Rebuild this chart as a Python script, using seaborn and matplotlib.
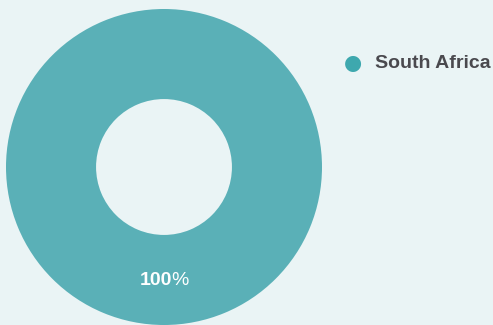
import matplotlib
matplotlib.use("Agg")
import matplotlib.pyplot as plt
import seaborn as sns

categories = ["South Africa"]
values = [100]
slice_colors = ["#5ab0b7"]
legend_colors = ["#3ea8ae"]

sns.set_style("white")
plt.rcParams['font.family'] = ['Liberation Sans', 'DejaVu Sans']

bg = "#eaf4f5"
fig = plt.figure(figsize=(4.93, 3.25), dpi=100, facecolor=bg)
ax = fig.add_axes([6/493, 0/325, 316/493, 316/325])
ax.set_facecolor(bg)
wedges, _ = ax.pie(values, colors=slice_colors, startangle=90, counterclock=False,
                   radius=1.0, wedgeprops=dict(width=0.57, linewidth=0))
ax.set_xlim(-1, 1)
ax.set_ylim(-1, 1)
ax.set_aspect('equal')
ax.axis('off')

total = sum(values)
for v in values:
    pct = f"{v / total * 100:.0f}"
    ax.annotate(pct, xy=(0, -0.72), xytext=(6, 0), textcoords='offset points',
                ha='right', va='center', color='white', fontsize=14, fontweight='bold')
    ax.annotate("%", xy=(0, -0.72), xytext=(5.5, 0), textcoords='offset points',
                ha='left', va='center', color='white', fontsize=14, fontweight='normal')

# legend
for i, (cat, col) in enumerate(zip(categories, legend_colors)):
    fig.text(353/493, 1 - 63/325, "●", color=col, fontsize=15, ha='center', va='center',
             family=['DejaVu Sans'])
    fig.text(375/493, 1 - 63.5/325, cat, color="#4a494e", fontsize=14, fontweight='bold',
             ha='left', va='center')

fig.savefig("out.png", dpi=100, facecolor=bg)
